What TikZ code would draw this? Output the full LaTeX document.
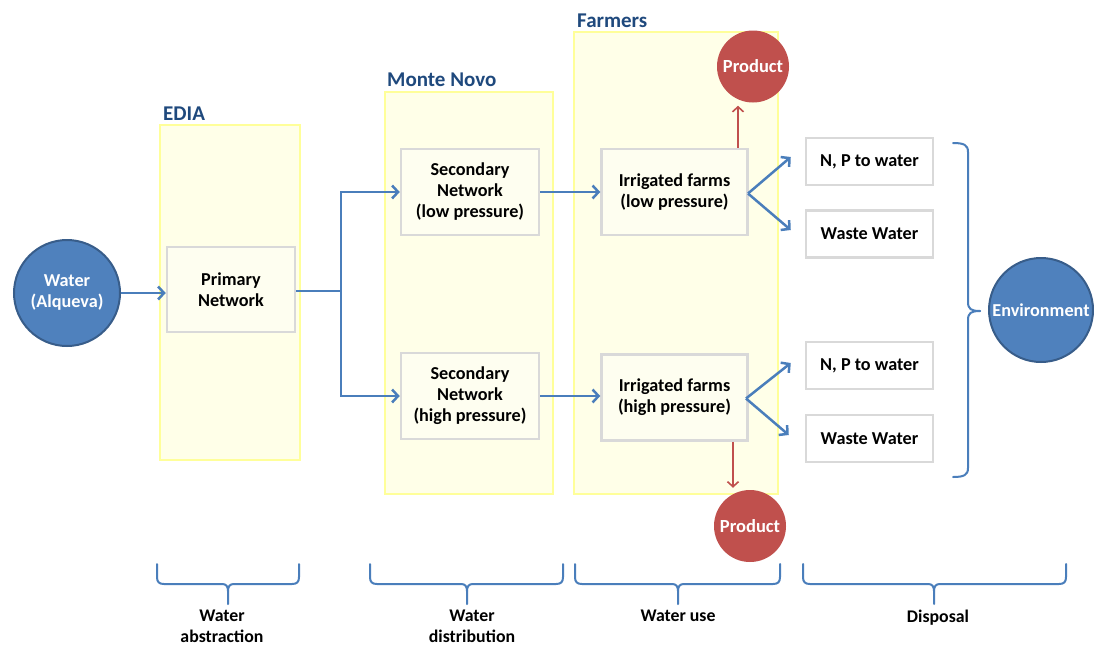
\documentclass[tikz,border=0pt]{standalone}
\usepackage{fontspec}
\setmainfont{Carlito}
\usetikzlibrary{arrows.meta}
\definecolor{cblue}{HTML}{4F81BD}
\definecolor{cbluedark}{HTML}{385D8A}
\definecolor{cred}{HTML}{C0504D}
\definecolor{arrblue}{HTML}{4A7EBB}
\definecolor{ttl}{HTML}{1F497D}
\definecolor{grpfill}{HTML}{FFFFE8}
\definecolor{grpline}{HTML}{FFFF99}
\definecolor{boxfill}{HTML}{FEFEF0}
\definecolor{boxline}{HTML}{D9D9D9}
\newcommand{\myBrace}[4]{% x1, xm, x2, top y
  \draw[bracestyle] (#1,#4) -- (#1,#4+13) .. controls (#1,#4+18) and (#1+2,#4+20) .. (#1+7,#4+20) -- (#2-6,#4+20) .. controls (#2-2,#4+20) and (#2,#4+22) .. (#2,#4+27) -- (#2,#4+40);
  \draw[bracestyle] (#2,#4+27) .. controls (#2,#4+22) and (#2+2,#4+20) .. (#2+6,#4+20) -- (#3-7,#4+20) .. controls (#3-2,#4+20) and (#3,#4+18) .. (#3,#4+13) -- (#3,#4);
}
\begin{document}
\begin{tikzpicture}[x=1pt,y=-1pt,
  group/.style={draw=grpline, fill=grpfill, line width=2.5pt, inner sep=0pt},
  procbox/.style={draw=boxline, fill=boxfill, line width=2.5pt, align=center, font=\bfseries\fontsize{18.2}{21}\selectfont, inner sep=0pt},
  outbox/.style={draw=boxline, fill=white, line width=2.5pt, align=center, font=\bfseries\fontsize{18.2}{21}\selectfont, inner sep=0pt, minimum width=127pt, minimum height=47pt},
  bluecirc/.style={circle, draw=cbluedark, fill=cblue, line width=2pt, text=white, align=center, font=\bfseries\fontsize{18.2}{21}\selectfont, minimum size=106pt, inner sep=0pt},
  redcirc/.style={circle, fill=cred, text=white, font=\bfseries\fontsize{18.5}{21}\selectfont, minimum size=72pt, inner sep=0pt},
  grptitle/.style={text=ttl, font=\bfseries\fontsize{21}{24}\selectfont, anchor=base west, inner sep=0pt},
  flow/.style={draw=arrblue, line width=2.5pt, -{Straight Barb[length=6pt,width=13pt,line width=2.5pt]}},
  line/.style={draw=arrblue, line width=2.5pt},
  redflow/.style={draw=cred, line width=1.6pt, -{Straight Barb[length=5pt,width=11pt,line width=1.6pt]}},
  bracestyle/.style={draw=arrblue, line width=2pt, line cap=round},
  stage/.style={align=center, font=\bfseries\fontsize{17.8}{21}\selectfont, anchor=north, inner sep=0pt}
]
\useasboundingbox[fill=white] (0,0) rectangle (1094,646);

% group boxes
\node[group, minimum width=140pt, minimum height=335pt] (edia) at (230,292.5) {};
\node[group, minimum width=168pt, minimum height=402pt] (mn) at (469,293) {};
\node[group, minimum width=204pt, minimum height=462pt] (farm) at (676,263) {};
\node[grptitle] (ediat) at (163,120) {EDIA};
\node[grptitle] (mnt) at (387,86) {Monte Novo};
\node[grptitle] (farmt) at (577,27) {Farmers};

% nodes
\node[bluecirc] (water) at (67,293) {Water\\(Alqueva)};
\node[procbox, minimum width=128pt, minimum height=85pt] (prim) at (231,289.5) {Primary\\Network};
\node[procbox, minimum width=138pt, minimum height=86pt] (sec1) at (470,192) {Secondary\\Network\\(low pressure)};
\node[procbox, minimum width=138pt, minimum height=86pt] (sec2) at (470,396) {Secondary\\Network\\(high pressure)};
\node[procbox, minimum width=146pt, minimum height=86pt] (irr1) at (674.5,192) {Irrigated farms\\(low pressure)};
\node[procbox, minimum width=146pt, minimum height=86pt] (irr2) at (674.5,397.5) {Irrigated farms\\(high pressure)};
\node[redcirc] (prod1) at (753,66.5) {Product};
\node[redcirc] (prod2) at (750,526) {Product};
\node[outbox] (np1) at (869.5,161.5) {N, P to water};
\node[outbox] (ww1) at (869.5,234) {Waste Water};
\node[outbox] (np2) at (869.5,365.5) {N, P to water};
\node[outbox] (ww2) at (869.5,438.5) {Waste Water};
\node[bluecirc, minimum size=104pt] (env) at (1041,310) {Environment};

% connectors
\draw[flow] (water) -- (water -| prim.west);
\coordinate (split) at (341,291);
\draw[line] (prim.east |- split) -- (split);
\draw[flow] (split) |- (sec1.west);
\draw[flow] (split) |- (sec2.west);
\draw[flow] (sec1) -- (irr1);
\draw[flow] (sec2) -- (sec2 -| irr2.west);
\coordinate (fork1) at (748,193.5);
\coordinate (fork2) at (746,398.5);
\draw[flow] (fork1) -- ([shift={(-14,-4.5)}]np1.west);
\draw[flow] (fork1) -- ([shift={(-14,-4)}]ww1.west);
\draw[flow] (fork2) -- ([shift={(-14,-2.5)}]np2.west);
\draw[flow] (fork2) -- ([shift={(-16,-3.5)}]ww2.west);
\draw[redflow] ([xshift=63.5pt]irr1.north) -- ([xshift=63.5pt,yshift=42pt]irr1.north);
\draw[redflow] ([xshift=58.5pt]irr2.south) -- ([xshift=58.5pt,yshift=-46pt]irr2.south);

% right brace
\draw[bracestyle] (953,143) .. controls (964,143) and (968,145) .. (968,152) -- (968,302) .. controls (968,309) and (971,311) .. (980,311);
\draw[bracestyle] (980,311) .. controls (971,311) and (968,313) .. (968,320) -- (968,468) .. controls (968,475) and (964,477) .. (953,477);

% bottom braces
\myBrace{157}{228}{299}{564}
\myBrace{370}{467}{563}{564}
\myBrace{575}{678}{780}{564}
\myBrace{803}{934}{1066}{564}

\node[stage] (s1) at (222,609.5) {Water\\abstraction};
\node[stage] (s2) at (472,609.5) {Water\\distribution};
\node[stage] (s3) at (678,610) {Water use};
\node[stage] (s4) at (938,610) {Disposal};
\end{tikzpicture}
\end{document}
